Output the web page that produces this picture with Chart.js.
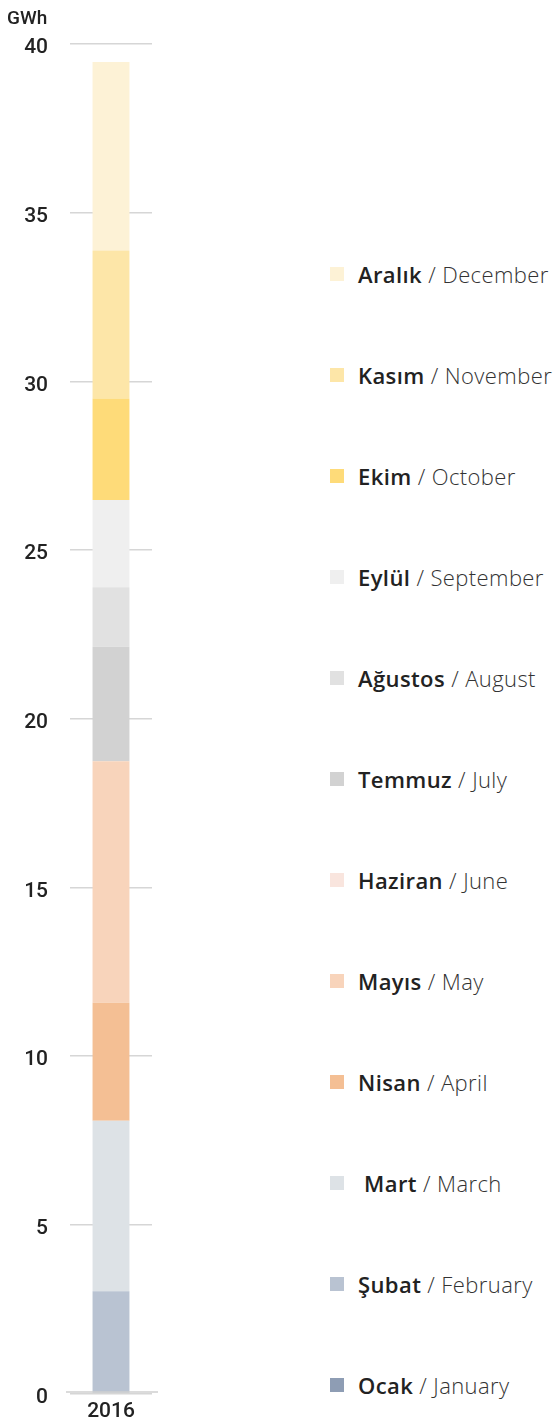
<!DOCTYPE html>
<html lang="tr">
<head>
  <meta charset="UTF-8">
  <title>GWh 2016</title>
  <script src="https://cdn.jsdelivr.net/npm/chart.js"></script>
  <style>
    body {
      margin: 0;
      width: 555px;
      height: 1428px;
      background: #ffffff;
      font-family: 'Roboto', 'DejaVu Sans', sans-serif;
      position: relative;
      overflow: hidden;
    }

    .chart-box {
      position: absolute;
      left: 0;
      top: 0;
      width: 175px;
      height: 1428px;
    }

    .unit {
      position: absolute;
      left: 7px;
      top: 6px;
      font-size: 19px;
      font-weight: 500;
      color: #222;
    }

    .legend-item {
      position: absolute;
      left: 330px;
      height: 24px;
      display: flex;
      align-items: center;
      white-space: pre;
      font-family: 'Open Sans', 'Roboto', sans-serif;
      font-size: 22px;
      letter-spacing: 0.4px;
      color: #222;
    }

    .legend-item .swatch {
      width: 14px;
      height: 14px;
      margin-right: 14px;
    }

    .legend-item b {
      font-weight: 600;
    }

    .legend-item span.en {
      font-weight: 300;
      color: #333;
    }
  </style>
</head>
<body>

  <div class="chart-box">
    <canvas id="energyChart" width="175" height="1428"></canvas>
  </div>
  <div class="unit">GWh</div>
  <div id="legend"></div>

  <script>
    // months from bottom of the stack to the top
    const monthsTr = ['Ocak', 'Şubat', ' Mart', 'Nisan', 'Mayıs', 'Haziran', 'Temmuz', 'Ağustos', 'Eylül', 'Ekim', 'Kasım', 'Aralık'];
    const monthsEn = ['January', 'February', 'March', 'April', 'May', 'June', 'July', 'August', 'September', 'October', 'November', 'December'];
    const values2016 = [0, 3.03, 5.05, 3.50, 7.16, 0, 3.39, 1.77, 2.58, 3.01, 4.39, 5.59];
    const colors = ['#8e9db4', '#b9c3d2', '#dde2e6', '#f4bf94', '#f8d4bb', '#f9e5de', '#d2d2d2', '#e1e1e1', '#efefef', '#fedb79', '#fde6a8', '#fdf2d6'];
    const years = ['2016'];
    const yTicks = [0, 5, 10, 15, 20, 25, 30, 35, 40];

    const datasets = monthsTr.map((m, i) => ({
      label: m.trim(),
      data: [values2016[i]],
      backgroundColor: colors[i],
      borderWidth: 0,
      barPercentage: 0.45,
      categoryPercentage: 1
    }));

    // the double line under the bar
    const baseLine = {
      id: 'baseLine',
      afterDraw(chart) {
        const { ctx, chartArea, scales } = chart;
        const y0 = scales.y.getPixelForValue(0);
        ctx.save();
        ctx.strokeStyle = '#cfcfcf';
        ctx.lineWidth = 1.5;
        ctx.beginPath();
        ctx.moveTo(chartArea.left - 4, y0 - 1.5);
        ctx.lineTo(chartArea.right + 6, y0 - 1.5);
        ctx.stroke();
        ctx.restore();
      }
    };

    new Chart(document.getElementById('energyChart'), {
      type: 'bar',
      data: { labels: years, datasets },
      plugins: [baseLine],
      options: {
        responsive: false,
        animation: false,
        layout: { padding: { top: 44, right: 23, bottom: 0, left: 0 } },
        plugins: {
          legend: { display: false },
          tooltip: { enabled: false }
        },
        scales: {
          x: {
            stacked: true,
            afterFit(scale) { scale.height = 27.4; },
            grid: { display: false, drawTicks: false },
            border: { display: false },
            ticks: {
              color: '#222',
              padding: 6,
              font: { family: 'Roboto', size: 21, weight: '500' }
            }
          },
          y: {
            stacked: true,
            min: 0,
            max: 40,
            afterFit(scale) { scale.width = 70; },
            afterBuildTicks(scale) { scale.ticks = yTicks.map(v => ({ value: v })); },
            grid: { color: '#d6d6d6', lineWidth: 1.5, drawTicks: false },
            border: { display: false },
            ticks: {
              color: '#222',
              padding: 22,
              labelOffset: 4,
              font: { family: 'Roboto', size: 21, weight: '500' }
            }
          }
        }
      }
    });

    // legend, top item is December
    const legend = document.getElementById('legend');
    for (let i = monthsTr.length - 1; i >= 0; i--) {
      const row = 11 - i;
      const item = document.createElement('div');
      item.className = 'legend-item';
      item.style.top = (262 + row * 101) + 'px';
      item.innerHTML = `<div class="swatch" style="background:${colors[i]}"></div><b>${monthsTr[i]}</b><span class="en"> / ${monthsEn[i]}</span>`;
      legend.appendChild(item);
    }
  </script>

</body>
</html>
